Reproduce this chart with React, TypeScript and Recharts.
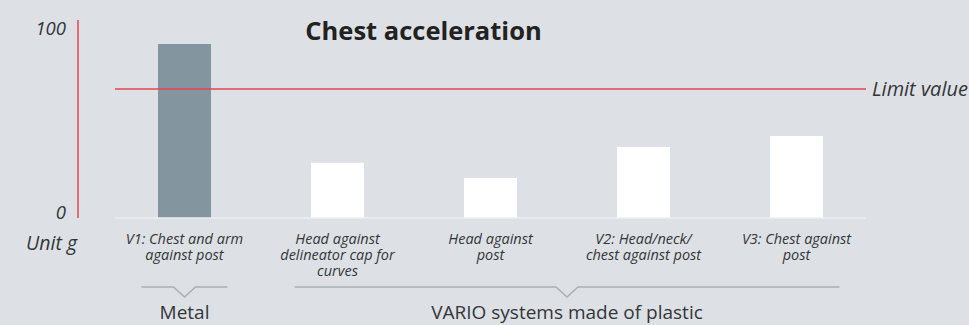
import { BarChart, Bar, XAxis, YAxis, ReferenceLine, Cell } from 'recharts'

// values, unit g
const categories = [
  'V1: Chest and arm\nagainst post',
  'Head against\ndelineator cap for\ncurves',
  'Head against\npost',
  'V2: Head/neck/\nchest against post',
  'V3: Chest against\npost',
]
const accelValues = [94.9, 30.2, 21.8, 38.7, 44.7]
const materials = ['metal', 'plastic', 'plastic', 'plastic', 'plastic']
const groupNames = ['Metal', 'VARIO systems made of plastic']
const groupFirst = [0, 1]
const groupLast = [0, 4]
const yTicks = [0, 100]
const limitValue = 70.4

const W = 969
const H = 325
const BAND = 153
const BG = '#dde1e5'
const RED = '#e5444f'
const TEXT = '#333638'
const MATERIAL_COLORS: Record<string, string> = { metal: '#83959e', plastic: '#ffffff' }

const data = categories.map((name, i) => ({ name, value: accelValues[i], material: materials[i] }))

function CategoryTick(props: any) {
  const { x, y, payload, index } = props
  const lines = String(payload.value).split('\n')
  const g = groupFirst.indexOf(index)
  let bracket = null
  if (g >= 0) {
    const left = x - 43
    const right = x + (groupLast[g] - groupFirst[g]) * BAND + 43
    const cx = (left + right) / 2
    const ly = y + 69
    bracket = (
      <g>
        <path
          d={`M${left},${ly} H${cx - 11} L${cx},${ly + 10} L${cx + 11},${ly} H${right}`}
          stroke="#a9aeb3" strokeWidth={1.5} fill="none"
        />
        <text x={cx} y={y + 101} textAnchor="middle" fontSize={19} fill={TEXT}>{groupNames[g]}</text>
      </g>
    )
  }
  return (
    <g>
      <text textAnchor="middle" fontSize={14.5} fontStyle="italic" fill={TEXT}>
        {lines.map((l, i) => (
          <tspan key={i} x={x} y={y + 26 + i * 16}>{l}</tspan>
        ))}
      </text>
      {bracket}
    </g>
  )
}

function ValueTick(props: any) {
  const { x, y, payload } = props
  return (
    <text x={x} y={y - 6} dy="0.36em" textAnchor="end" fontSize={18.5} fontStyle="italic" fill={TEXT}>
      {payload.value}
    </text>
  )
}

function UnitLabel(props: any) {
  const vb = props.viewBox || { x: 0, y: 20, width: 78, height: 198 }
  return (
    <text x={vb.x + vb.width - 1} y={vb.y + vb.height + 32} textAnchor="end" fontSize={19.5} fontStyle="italic" fill={TEXT}>
      Unit g
    </text>
  )
}

export default function App() {
  return (
    <div style={{ position: 'fixed', left: 0, top: 0, width: W, height: H, background: BG, fontFamily: '"Open Sans", sans-serif' }}>
      <div style={{ position: 'absolute', left: 0, top: 15, width: 847, textAlign: 'center', fontSize: 25.5, lineHeight: '30px', fontWeight: 700, color: '#222' }}>
        Chest acceleration
      </div>
      <BarChart width={W} height={H} data={data} margin={{ top: 20, right: 103, bottom: 0, left: 0 }}>
        <YAxis
          yAxisId="main" width={78} domain={[0, 108]} ticks={yTicks} interval={0}
          axisLine={{ stroke: RED, strokeWidth: 1.5 }} tickLine={false} tickSize={0} tickMargin={12}
          tick={<ValueTick />} label={{ content: <UnitLabel /> }}
        />
        {/* spacer axis so the red axis line sits left of the first band */}
        <YAxis yAxisId="aSpacer" width={37} domain={[0, 108]} axisLine={false} tickLine={false} tick={false} />
        <XAxis
          dataKey="name" interval={0} height={107} padding={{ left: -7, right: -7 }}
          axisLine={{ stroke: '#eceef1', strokeWidth: 1.5 }} tickLine={false} tickSize={0} tickMargin={0}
          tick={<CategoryTick />}
        />
        <Bar yAxisId="main" dataKey="value" barSize={53} isAnimationActive={false}>
          {data.map((d, i) => (
            <Cell key={i} fill={MATERIAL_COLORS[d.material]} />
          ))}
        </Bar>
        <ReferenceLine
          yAxisId="main" y={limitValue} stroke={RED} strokeWidth={1.5}
          label={{ value: 'Limit value', position: 'right', offset: 6, fontSize: 20, fontStyle: 'italic', fill: TEXT }}
        />
      </BarChart>
    </div>
  )
}
